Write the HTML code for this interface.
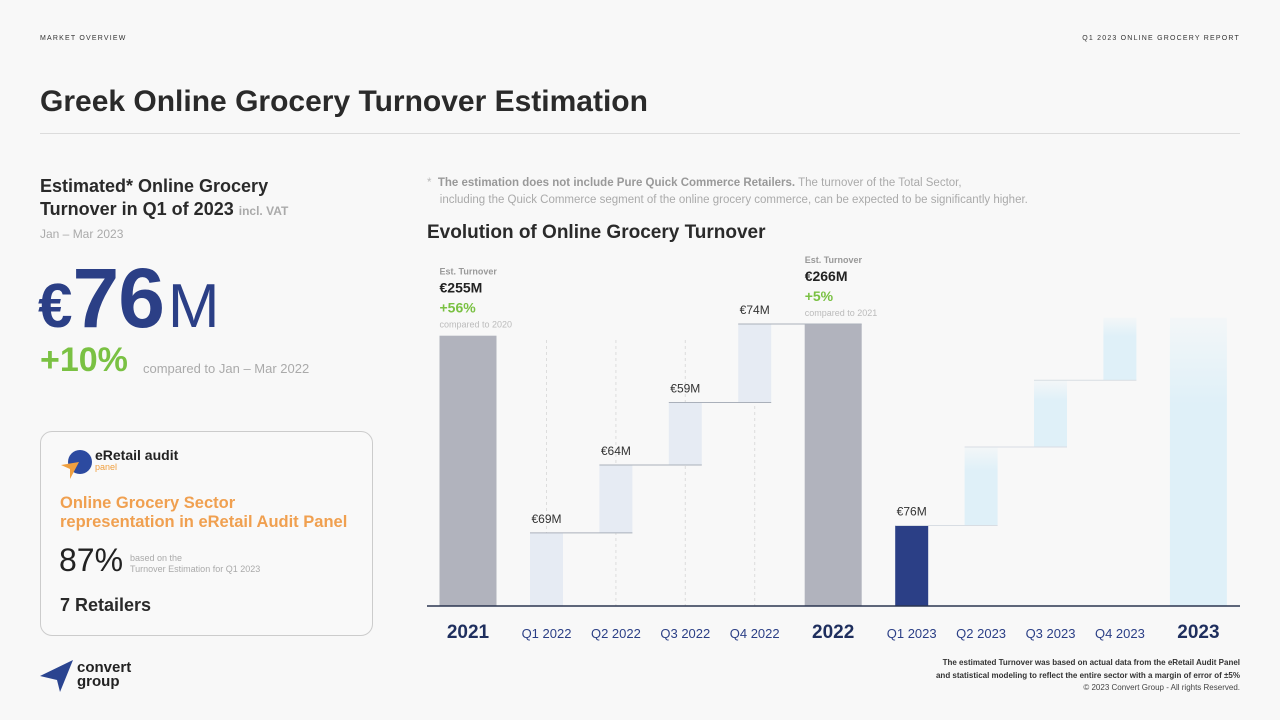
<!DOCTYPE html>
<html><head><meta charset="utf-8">
<style>
body{margin:0;width:1280px;height:720px;background:#f8f8f8;font-family:"Liberation Sans",sans-serif;position:relative;overflow:hidden;color:#2b2b2b}
.a{position:absolute;white-space:nowrap}
</style></head>
<body>
<div class="a" style="left:40px;top:35px;font-size:7px;letter-spacing:1.2px;color:#333">MARKET OVERVIEW</div>
<div class="a" style="right:40px;top:35px;font-size:7px;letter-spacing:1.2px;color:#333">Q1 2023 ONLINE GROCERY REPORT</div>
<div class="a" style="left:40px;top:85px;font-size:30px;font-weight:bold;color:#2a2a2a">Greek Online Grocery Turnover Estimation</div>
<div class="a" style="left:40px;top:133px;width:1200px;height:1px;background:#dcdcdc"></div>

<div class="a" style="left:40px;top:175px;font-size:18px;font-weight:bold;line-height:23px;color:#2a2a2a">Estimated* Online Grocery<br>Turnover in Q1 of 2023 <span style="font-size:12px;color:#aaa">incl. VAT</span></div>
<div class="a" style="left:40px;top:227px;font-size:12px;color:#aaa">Jan – Mar 2023</div>
<div class="a" style="left:38px;top:248px;color:#2b3f86;font-weight:bold;line-height:100px"><span style="font-size:62px">€</span><span style="font-size:84px;letter-spacing:-1px">76</span><span style="font-size:62px;font-weight:normal;margin-left:4px">M</span></div>
<div class="a" style="left:40px;top:341px;font-size:34px;font-weight:bold;color:#7ac143">+10%</div>
<div class="a" style="left:143px;top:361px;font-size:13px;color:#aaa">compared to Jan – Mar 2022</div>

<div class="a" style="left:40px;top:431px;width:331px;height:203px;border:1px solid #ccc;border-radius:12px;background:#f9f9f9"></div>
<svg class="a" style="left:60px;top:448px" width="40" height="32"><circle cx="20" cy="14" r="12" fill="#2c4aa0"/><path d="M1 17 L19 14 L10 31 L10 21 Z" fill="#f0a040"/></svg>
<div class="a" style="left:95px;top:447px;font-size:14px;font-weight:bold;color:#222">eRetail audit</div>
<div class="a" style="left:95px;top:462px;font-size:9px;color:#f0a040">panel</div>
<div class="a" style="left:60px;top:494px;font-size:16.5px;font-weight:bold;line-height:19px;color:#f0a050">Online Grocery Sector<br>representation in eRetail Audit Panel</div>
<div class="a" style="left:59px;top:542px;font-size:32px;color:#222">87%</div>
<div class="a" style="left:130px;top:553px;font-size:9px;line-height:11px;color:#aaa">based on the<br>Turnover Estimation for Q1 2023</div>
<div class="a" style="left:60px;top:595px;font-size:18px;font-weight:bold;color:#2a2a2a">7 Retailers</div>

<svg class="a" style="left:40px;top:658px" width="36" height="36"><path d="M0 18 L33 2 L20 34 L17 22 Z" fill="#2a4490"/></svg>
<div class="a" style="left:77px;top:661px;font-size:15px;font-weight:bold;line-height:14px;color:#222">convert<br>group</div>

<div class="a" style="left:427px;top:175px;font-size:11.5px;line-height:17px;color:#aaa"><span style="color:#bbb">*</span>&nbsp;&nbsp;<b style="color:#999">The estimation does not include Pure Quick Commerce Retailers.</b> The turnover of the Total Sector,<br>&nbsp;&nbsp;&nbsp;&nbsp;including the Quick Commerce segment of the online grocery commerce, can be expected to be significantly higher.</div>
<div class="a" style="left:427px;top:222px;font-size:19px;font-weight:bold;color:#2a2a2a">Evolution of Online Grocery Turnover</div>

<svg id="chart" class="a" style="left:0;top:0" width="1280" height="720">
<defs><linearGradient id="fg" x1="0" y1="0" x2="0" y2="1"><stop offset="0" stop-color="#dff0f8" stop-opacity="0.2"/><stop offset="0.3" stop-color="#dff0f8"/><stop offset="1" stop-color="#dff0f8"/></linearGradient></defs>
</svg>

<div class="a" style="right:40px;top:656px;font-size:8px;font-weight:bold;line-height:13px;text-align:right;color:#333">The estimated Turnover was based on actual data from the eRetail Audit Panel<br>and statistical modeling to reflect the entire sector with a margin of error of ±5%</div>
<div class="a" style="right:40px;top:683px;font-size:8px;color:#444">© 2023 Convert Group - All rights Reserved.</div>

<script>
const categories=["2021","Q1 2022","Q2 2022","Q3 2022","Q4 2022","2022","Q1 2023","Q2 2023","Q3 2023","Q4 2023","2023"];
const values=[255,69,64,59,74,266,76,74,63,59,272];
const kinds=["total","q","q","q","q","total","actual","fc","fc","fc","fctotal"];
const valueLabels=["€255M","€69M","€64M","€59M","€74M","€266M","€76M","","","",""];
const totalNotes={"0":["€255M","+56%","compared to 2020"],"5":["€266M","+5%","compared to 2021"]};
const svg=document.getElementById('chart');
const NS="http://www.w3.org/2000/svg";
const base=606,scale=1.06,x0=468;
const isT=i=>kinds[i]==="total"||kinds[i]==="fctotal";
const xs=[x0];
for(let i=1;i<categories.length;i++){xs.push(xs[i-1]+((isT(i)||isT(i-1))?78.5:69.4));}
const X=i=>xs[i], Y=v=>base-v*scale;
function mk(t,a){const e=document.createElementNS(NS,t);for(const k in a)e.setAttribute(k,a[k]);svg.appendChild(e);return e;}
let cum=0;
const tops=[],lefts=[],rights=[];
categories.forEach((c,i)=>{
  const isTotal=isT(i);
  const w=isTotal?57:33;
  let lo,hi;
  if(isTotal){lo=0;hi=values[i];cum=0;}else{lo=cum;hi=cum+values[i];cum=hi;}
  const fill=kinds[i]==="total"?"#b1b3bd":kinds[i]==="q"?"#e6ebf3":kinds[i]==="actual"?"#2b3f86":"url(#fg)";
  if(kinds[i]==="q"){const g=mk('line',{x1:X(i),x2:X(i),y1:340,y2:base,stroke:'#ddd','stroke-dasharray':'3,3'});}
  const r=mk('rect',{x:X(i)-w/2,y:Y(hi),width:w,height:Y(lo)-Y(hi),fill:fill});
  
  
  tops.push(Y(hi));lefts.push(X(i)-w/2);rights.push(X(i)+w/2);
  const t=mk('text',{x:X(i),y:638,'text-anchor':'middle','font-size':isTotal?19:13,'font-weight':isTotal?'bold':'normal',fill:isTotal?'#1f2f5e':'#2b3f86'});
  t.textContent=c;
  
  
  if(valueLabels[i]&&!totalNotes[i]){const v=mk('text',{x:X(i),y:Y(hi)-10,'text-anchor':'middle','font-size':12,fill:'#333'});v.textContent=valueLabels[i];
  
  }
  if(totalNotes[i]){const n=totalNotes[i],lx=X(i)-w/2,ty=Y(hi);
    const rows=[["Est. Turnover",ty-61,9,'#999','bold'],[n[0],ty-43,14,'#222','bold'],[n[1],ty-23,14,'#7ac143','bold'],[n[2],ty-8,9,'#bbb','normal']];
    rows.forEach(rw=>{const e=mk('text',{x:lx,y:rw[1],'font-size':rw[2],fill:rw[3],'font-weight':rw[4]});e.textContent=rw[0];
    
    });}
});
for(let i=0;i<categories.length-1;i++){
  if(kinds[i+1]==="fctotal"||kinds[i]==="total")continue;
  const l=mk('line',{x1:lefts[i],x2:rights[i+1],y1:tops[i],y2:tops[i],stroke:kinds[i]==="fc"||kinds[i]==="actual"?'#d8dde3':'#aab0ba','stroke-width':1});
  
  
}
const ax=mk('line',{x1:427,x2:1240,y1:base,y2:base,stroke:'#2b3550','stroke-width':1.5});


</script>
</body></html>
